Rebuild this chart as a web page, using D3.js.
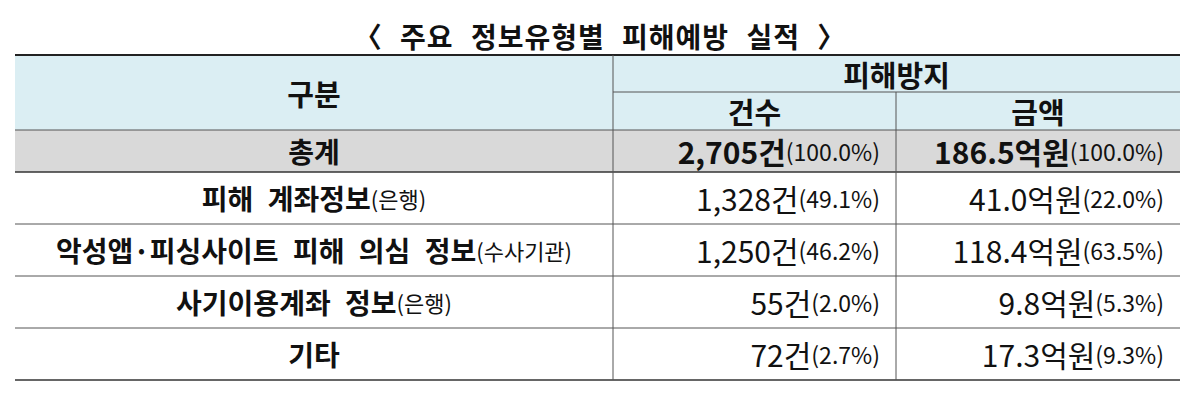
<!DOCTYPE html><html><head><meta charset="utf-8">
<script src="https://cdn.jsdelivr.net/npm/d3@7"></script>
<style>body{margin:0;background:#fff}svg{font-family:"Noto Sans CJK KR","Noto Sans",sans-serif}</style></head><body>
<svg id="c" width="1200" height="410"></svg>
<script>
const title = "〈 주요 정보유형별 피해예방 실적 〉";
const categories = ["총계","피해 계좌정보","악성앱·피싱사이트 피해 의심 정보","사기이용계좌 정보","기타"];
const categoryNotes = ["","(은행)","(수사기관)","(은행)",""];
const counts = ["2,705","1,328","1,250","55","72"];
const countPct = ["(100.0%)","(49.1%)","(46.2%)","(2.0%)","(2.7%)"];
const amounts = ["186.5","41.0","118.4","9.8","17.3"];
const amountPct = ["(100.0%)","(22.0%)","(63.5%)","(5.3%)","(9.3%)"];

const svg = d3.select("#c");
const X0=15,X1=613,X2=896,X3=1180;
const yTop=55, yH1=92, yH2=130, yTot=172, yEnd=380;
const y = d3.scaleBand().domain(d3.range(1,categories.length)).range([yTot,yEnd]);

svg.append("text").attr("x",600).attr("y",36).attr("text-anchor","middle").attr("dominant-baseline","central")
 .attr("font-size",28).attr("font-weight",700).attr("word-spacing",10).attr("letter-spacing",1).attr("fill","#111").text(title);

svg.append("rect").attr("x",X0).attr("y",yTop).attr("width",X3-X0).attr("height",yH2-yTop).attr("fill","#dbeef3");
svg.append("rect").attr("x",X0).attr("y",yH2).attr("width",X3-X0).attr("height",yTot-yH2).attr("fill","#d9d9d9");

const line=(x1,y1,x2,y2,w=1,c="#555")=>svg.append("line").attr("x1",x1).attr("y1",y1).attr("x2",x2).attr("y2",y2).attr("stroke",c).attr("stroke-width",w);
line(X0,yTop,X3,yTop,2,"#222");
line(X1,yH1,X3,yH1);
line(X0,yH2,X3,yH2);
line(X0,yTot,X3,yTot,1.5,"#333");
d3.range(2,categories.length).forEach(i=>line(X0,y(i),X3,y(i)));
line(X0,yEnd,X3,yEnd,1.5,"#333");
line(X1,yTop,X1,yEnd);
line(X2,yH1,X2,yEnd);

const txt=(x,yy,s,size,bold,anchor="middle")=>svg.append("text").attr("x",x).attr("y",yy).attr("text-anchor",anchor)
 .attr("dominant-baseline","central").attr("font-size",size).attr("font-weight",bold?700:400).attr("fill","#111").text(s);
txt((X0+X1)/2,(yTop+yH2)/2,"구분",29,true);
txt((X1+X3)/2,(yTop+yH1)/2,"피해방지",29,true);
txt((X1+X2)/2,(yH1+yH2)/2,"건수",29,true);
txt((X2+X3)/2,(yH1+yH2)/2,"금액",29,true);

function rich(x,yy,parts,anchor){
  const t=svg.append("text").attr("x",x).attr("y",yy).attr("text-anchor",anchor).attr("dominant-baseline","central")
   .attr("fill","#111").attr("word-spacing",8);
  parts.forEach(p=>t.append("tspan").attr("font-size",p[1]).attr("font-weight",p[2]?700:400).text(p[0]));
}
categories.forEach((c,i)=>{
  const cy = i===0 ? (yH2+yTot)/2 : y(i)+y.bandwidth()/2;
  const b = i===0;
  rich((X0+X1)/2,cy,[[c,28,true],[categoryNotes[i],22,false]],"middle");
  rich(X2-16,cy,[[counts[i]+"건",30,b],[countPct[i],23,false]],"end");
  rich(X3-16,cy,[[amounts[i]+"억원",30,b],[amountPct[i],23,false]],"end");
});
</script></body></html>
